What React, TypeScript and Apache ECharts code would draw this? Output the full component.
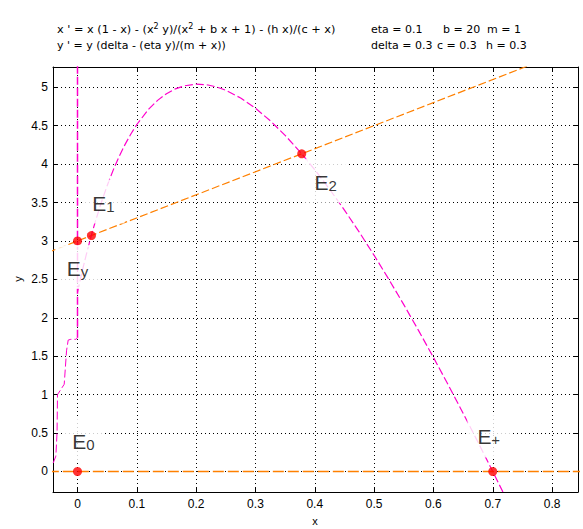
import React, { useEffect, useRef } from 'react';
import * as echarts from 'echarts';

// Axis window
const X_MIN = -0.0413;
const X_MAX = 0.8437;
const Y_MIN = -0.2668;
const Y_MAX = 5.2632;
const X_STEP = 0.1;
const Y_STEP = 0.5;

// x-nullcline, main branch (magenta)
const xNullX = [0, 0.005, 0.01, 0.015, 0.02, 0.025, 0.03, 0.04, 0.05, 0.06, 0.07, 0.08, 0.09, 0.1, 0.12, 0.135, 0.15, 0.165, 0.18, 0.2, 0.22, 0.235, 0.25, 0.275, 0.3, 0.325, 0.35, 0.378, 0.4, 0.425, 0.45, 0.475, 0.5, 0.525, 0.55, 0.575, 0.6, 0.625, 0.65, 0.675, 0.7, 0.72];
const xNullY = [2.333, 2.507, 2.671, 2.827, 2.976, 3.117, 3.25, 3.497, 3.719, 3.918, 4.095, 4.253, 4.392, 4.515, 4.715, 4.829, 4.916, 4.979, 5.018, 5.04, 5.029, 5.002, 4.96, 4.86, 4.727, 4.563, 4.374, 4.134, 3.926, 3.672, 3.401, 3.114, 2.813, 2.498, 2.171, 1.833, 1.484, 1.126, 0.759, 0.383, 0, -0.312];

// x-nullcline, left branch (magenta)
const xNullLeftX = [-0.041, -0.0365, -0.0345, -0.0337, -0.0224, -0.0185, -0.0157, -0.0112, -0.0028, 0];
const xNullLeftY = [0.11, 0.2, 0.5, 1.0, 1.135, 1.57, 1.71, 1.72, 1.72, 1.74];

// x-nullcline x = 0 (magenta)
const xNullAxisX = [0, 0];
const xNullAxisY = [1.74, 5.4];

// y-nullclines (orange)
const yNullSlopeX = [-0.05, 0.85];
const yNullSlopeY = [2.85, 5.55];
const yNullZeroX = [-0.05, 0.85];
const yNullZeroY = [0, 0];

// equilibria
const eqSub = ['0', 'y', '1', '2', '+'];
const eqX = [0, 0, 0.0235, 0.378, 0.7];
const eqY = [0, 3, 3.07, 4.134, 0];

// text
const eqnLine1 = "x ' = x (1 - x) - (x{sup|2} y)/(x{sup|2} + b x + 1) - (h x)/(c + x)";
const eqnLine2 = "y ' = y (delta - (eta y)/(m + x))";
const paramsRow1 = ['eta = 0.1', 'b = 20', 'm = 1'];
const paramsRow2 = ['delta = 0.3', 'c = 0.3', 'h = 0.3'];

const labelOffsets = [[6, -31], [0, 26], [12, -34], [24, 27], [-4, -36]];
const paramXs = [[371, 443, 487], [371, 437, 486]];

const zip = (xs: number[], ys: number[]) => xs.map((x, i) => [x, ys[i]]);

const TXT_FONT = 'DejaVu Sans, sans-serif';
const AX_FONT = 'Liberation Sans, Arial, sans-serif';
const MAGENTA = '#ff00cc';
const ORANGE = '#ff8000';

export default function App() {
  const ref = useRef<HTMLDivElement>(null);
  useEffect(() => {
    if (!ref.current) return;
    const chart = echarts.init(ref.current, null, { renderer: 'svg' });

    const baseX = {
      type: 'value' as const,
      z: 0,
      min: X_MIN,
      max: X_MAX,
      minInterval: X_STEP,
      maxInterval: X_STEP,
      splitNumber: 9,
    };
    const baseY = {
      type: 'value' as const,
      z: 0,
      min: Y_MIN,
      max: Y_MAX,
      minInterval: Y_STEP,
      maxInterval: Y_STEP,
      splitNumber: 11,
    };
    const axLine = { show: true, onZero: false, lineStyle: { color: '#000', width: 1 } };
    const axTick = { show: true, inside: true, length: 5, lineStyle: { color: '#000', width: 1 } };
    const split = { show: true, lineStyle: { color: '#000', width: 1, type: [1, 3] } };

    const graphics: any[] = [
      {
        type: 'text',
        x: 57,
        y: 29.5,
        style: {
          text: eqnLine1,
          font: `11.3px ${TXT_FONT}`,
          fill: '#000',
          verticalAlign: 'middle',
          lineHeight: 14,
          rich: { sup: { fontSize: 8, fontFamily: TXT_FONT, lineHeight: 6, verticalAlign: 'top', fill: '#000' } },
        },
      },
      {
        type: 'text',
        x: 57,
        y: 45,
        style: { text: eqnLine2, font: `11px ${TXT_FONT}`, fill: '#000', verticalAlign: 'middle' },
      },
      {
        type: 'text',
        x: 315,
        y: 521,
        style: { text: 'x', font: `11px ${AX_FONT}`, fill: '#000', align: 'center', verticalAlign: 'middle' },
      },
      {
        type: 'text',
        x: 18,
        y: 279,
        rotation: Math.PI / 2,
        style: { text: 'y', font: `11px ${AX_FONT}`, fill: '#000', align: 'center', verticalAlign: 'middle' },
      },
    ];
    [paramsRow1, paramsRow2].forEach((row, r) => {
      row.forEach((t, i) => {
        graphics.push({
          type: 'text',
          x: paramXs[r][i],
          y: r === 0 ? 29.5 : 45,
          style: { text: t, font: `11px ${TXT_FONT}`, fill: '#000', verticalAlign: 'middle' },
        });
      });
    });

    const lineSeries = (xs: number[], ys: number[], color: string, width: number, dash: number[], z: number) => ({
      type: 'line',
      z,
      silent: true,
      showSymbol: false,
      clip: true,
      data: zip(xs, ys),
      lineStyle: { color, width, type: dash, opacity: 1 },
    });

    const option: any = {
      animation: false,
      backgroundColor: '#fff',
      grid: { left: 53, top: 67, width: 525, height: 425, outerBoundsMode: 'none', containLabel: false },
      xAxis: [
        {
          ...baseX,
          position: 'bottom',
          axisLine: axLine,
          axisTick: axTick,
          axisLabel: { color: '#000', fontSize: 12, fontFamily: AX_FONT, margin: 6, showMinLabel: false, showMaxLabel: false },
          splitLine: split,
        },
        {
          ...baseX,
          position: 'top',
          axisLine: axLine,
          axisTick: axTick,
          axisLabel: { show: false },
          splitLine: { show: false },
        },
      ],
      yAxis: [
        {
          ...baseY,
          position: 'left',
          axisLine: axLine,
          axisTick: axTick,
          axisLabel: { color: '#000', fontSize: 12, fontFamily: AX_FONT, margin: 5, showMinLabel: false, showMaxLabel: false },
          splitLine: split,
        },
        {
          ...baseY,
          position: 'right',
          axisLine: axLine,
          axisTick: axTick,
          axisLabel: { show: false },
          splitLine: { show: false },
        },
      ],
      graphic: graphics,
      series: [
        lineSeries(yNullSlopeX, yNullSlopeY, ORANGE, 1.2, [8, 3], 4),
        lineSeries(xNullLeftX, xNullLeftY, MAGENTA, 1, [8, 3], 4),
        lineSeries(xNullX, xNullY, MAGENTA, 1.2, [8, 3], 4),
        lineSeries(yNullZeroX, yNullZeroY, ORANGE, 1.5, [11, 4], 6),
        lineSeries(xNullAxisX, xNullAxisY, MAGENTA, 1.5, [8, 3], 6),
        {
          type: 'scatter',
          z: 10,
          silent: true,
          symbol: 'circle',
          symbolSize: 9,
          itemStyle: { color: '#ff0000' },
          data: eqX.map((x, i) => ({
            value: [x, eqY[i]],
            label: {
              show: true,
              position: 'inside',
              offset: labelOffsets[i],
              formatter: `{b|E}{s|${eqSub[i]}}`,
              backgroundColor: '#fff',
              borderColor: '#fff',
              borderWidth: 1,
              padding: [9, 9],
              rich: {
                b: { fontSize: 21, fontFamily: AX_FONT, color: '#000', lineHeight: 24, verticalAlign: 'bottom' },
                s: { fontSize: 15, fontFamily: AX_FONT, color: '#000', lineHeight: 18, verticalAlign: 'bottom' },
              },
            },
          })),
        },
      ],
    };
    chart.setOption(option);
    return () => chart.dispose();
  }, []);
  return <div ref={ref} style={{ position: 'fixed', left: 0, top: 0, width: 583, height: 529, background: '#fff' }} />;
}
